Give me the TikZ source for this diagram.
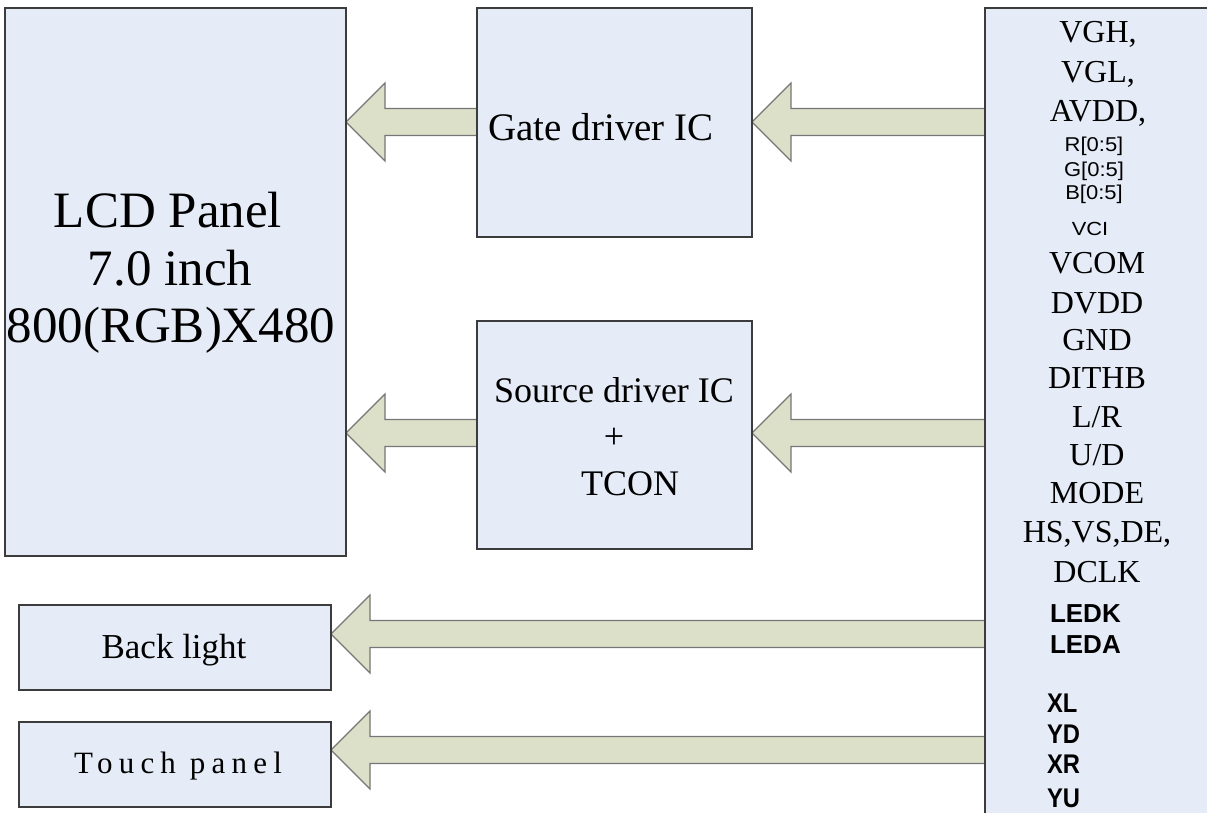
\documentclass[tikz,border=0pt]{standalone}
\usepackage{fontspec}
\setmainfont{Liberation Serif}
\newfontfamily\sansf{Liberation Sans}
\newfontfamily\touchf[LetterSpace=20]{Liberation Serif}
\usetikzlibrary{calc,backgrounds}
\definecolor{boxfill}{HTML}{E6ECF7}
\definecolor{boxline}{HTML}{3C3C3C}
\definecolor{arrfill}{HTML}{DCE0C9}
\definecolor{arrline}{HTML}{767676}
\tikzset{
  box/.style={draw=boxline, fill=boxfill, line width=1.3pt, inner sep=0pt, outer sep=0pt, anchor=north west},
  barrow/.style={draw=arrline, fill=arrfill, line width=1.2pt, line join=miter},
  lbl/.style={inner sep=0pt, outer sep=0pt, anchor=base},
  ser/.style={lbl, font=\fontsize{32}{38}\selectfont},
  sml/.style={lbl, font=\sansf\fontsize{20}{22}\selectfont},
  bld/.style={lbl, anchor=base west, font=\sansf\bfseries\fontsize{26}{30}\selectfont},
  bldn/.style={lbl, anchor=base west, font=\sansf\bfseries\fontsize{27}{30}\selectfont},
}
\newcommand\blockarrow[3]{%
  \filldraw[barrow] let \p1=(#1), \p2=(#2), \p3=(#3) in
    (\x1,\y3) -- ({\x1+39pt},{\y3+39pt}) -- ({\x1+39pt},{\y3+13.5pt}) -- (\x2,{\y3+13.5pt})
    -- (\x2,{\y3-13.5pt}) -- ({\x1+39pt},{\y3-13.5pt}) -- ({\x1+39pt},{\y3-39pt}) -- cycle;}
\begin{document}
\begin{tikzpicture}[x=1pt,y=-1pt]
\useasboundingbox (0,0) rectangle (1207,813);
% boxes
\node[box, minimum width=341, minimum height=548] (lcd) at (5,8) {};
\node[box, minimum width=275, minimum height=229] (gate) at (477,8) {};
\node[box, minimum width=275, minimum height=228] (src) at (477,321) {};
\node[box, minimum width=312, minimum height=85] (bl) at (19,605) {};
\node[box, minimum width=312, minimum height=85] (tp) at (19,722) {};
\node[box, draw=none, minimum width=222, minimum height=805] (sig) at (985,8) {};
\draw[draw=boxline, line width=1.3pt] (sig.south west) -- (sig.north west) -- (sig.north east);
% arrow levels
\coordinate (lvgate) at (0,122);
\coordinate (lvsrc) at (0,433);
\coordinate (lvbl) at (0,634);
\coordinate (lvtp) at (0,750);
\begin{scope}[on background layer]
\blockarrow{lcd.east}{gate.west}{lvgate}
\blockarrow{gate.east}{sig.west}{lvgate}
\blockarrow{lcd.east}{src.west}{lvsrc}
\blockarrow{src.east}{sig.west}{lvsrc}
\blockarrow{bl.east}{sig.west}{lvbl}
\blockarrow{tp.east}{sig.west}{lvtp}
\end{scope}
% box texts
\node[lbl, font=\fontsize{51}{57}\selectfont] (lcd1) at (168,228) {LCD Panel};
\node[lbl, font=\fontsize{51}{57}\selectfont] (lcd2) at (170,285) {7.0 inch};
\node[lbl, font=\fontsize{51}{57}\selectfont] (lcd3) at (171,342) {800(RGB)X480};
\node[lbl, font=\fontsize{39}{42}\selectfont] (gatet) at (601,141) {Gate driver IC};
\node[lbl, font=\fontsize{36}{40}\selectfont] (src1) at (614,402) {Source driver IC};
\node[lbl, font=\fontsize{36}{40}\selectfont] (src2) at (614,448) {+};
\node[lbl, font=\fontsize{36}{40}\selectfont] (src3) at (630,495) {TCON};
\node[lbl, font=\fontsize{35}{38}\selectfont] (blt) at (174,658) {Back light};
\node[lbl, font=\touchf\fontsize{31}{36}\selectfont] (tpt) at (178,773) {Touch panel};
% signal texts
\node[ser] (s1) at (1098,43) {VGH,};
\node[ser] (s2) at (1098,83) {VGL,};
\node[ser] (s3) at (1098,122) {AVDD,};
\node[sml] (s4) at (1094,152) {\scalebox{1.1}[1]{R[0:5]}};
\node[sml] (s5) at (1094,177) {\scalebox{1.1}[1]{G[0:5]}};
\node[sml] (s6) at (1094,200) {\scalebox{1.1}[1]{B[0:5]}};
\node[sml, font=\sansf\fontsize{19}{22}\selectfont] (s7) at (1090,235) {\scalebox{1.15}[1]{VCI}};
\node[ser] (s8) at (1097,273) {VCOM};
\node[ser] (s9) at (1097,313) {DVDD};
\node[ser] (s10) at (1097,350) {GND};
\node[ser] (s11) at (1097,388) {DITHB};
\node[ser] (s12) at (1097,427) {L/R};
\node[ser] (s13) at (1097,465) {U/D};
\node[ser] (s14) at (1097,503) {MODE};
\node[ser] (s15) at (1097,542) {HS,VS,DE,};
\node[ser] (s16) at (1097,582) {DCLK};
\node[bld] (s17) at (1050,622) {LEDK};
\node[bld] (s18) at (1050,653) {LEDA};
\node[bldn] (s19) at (1047,712) {\scalebox{0.88}[1]{XL}};
\node[bldn] (s20) at (1047,743) {\scalebox{0.88}[1]{YD}};
\node[bldn] (s21) at (1047,773) {\scalebox{0.88}[1]{XR}};
\node[bldn] (s22) at (1047,807) {\scalebox{0.88}[1]{YU}};
\end{tikzpicture}
\end{document}
